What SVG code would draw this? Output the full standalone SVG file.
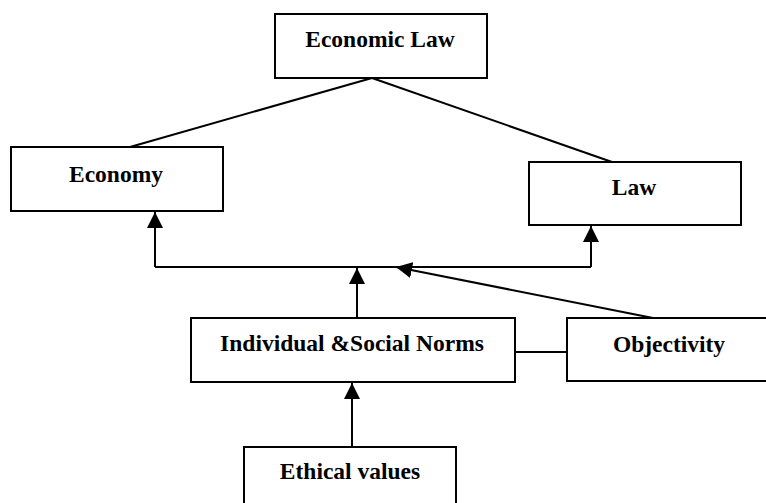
<svg xmlns="http://www.w3.org/2000/svg" width="766" height="503" viewBox="0 0 766 503">
  <style>
    .box { fill: #ffffff; stroke: #000000; stroke-width: 2; }
    .lbl { font-family: "Liberation Serif", "Times New Roman", serif; font-weight: bold; font-size: 23.5px; fill: #000000; text-anchor: middle; }
    .edge { fill: none; stroke: #000000; stroke-width: 2; }
  </style>
  <defs>
    <marker id="arrow" viewBox="0 0 16 16" refX="16" refY="8" markerWidth="16" markerHeight="16" markerUnits="userSpaceOnUse" orient="auto">
      <path d="M0,0 L16,8 L0,16 z" fill="#000000"/>
    </marker>
  </defs>
  <rect width="766" height="503" fill="#ffffff"/>

  <g id="connectors">
    <line class="edge" x1="372" y1="78" x2="130" y2="147"/>
    <line class="edge" x1="372" y1="78" x2="612" y2="162"/>
    <polyline class="edge" points="155,267 591,267"/>
    <line class="edge" x1="155" y1="267" x2="155" y2="212" marker-end="url(#arrow)"/>
    <line class="edge" x1="591" y1="267" x2="591" y2="226" marker-end="url(#arrow)"/>
    <line class="edge" x1="357" y1="318" x2="357" y2="268" marker-end="url(#arrow)"/>
    <line class="edge" x1="653" y1="318" x2="396" y2="267" marker-end="url(#arrow)"/>
    <line class="edge" x1="515" y1="352" x2="567" y2="352"/>
    <line class="edge" x1="352" y1="447" x2="352" y2="383" marker-end="url(#arrow)"/>
  </g>

  <g id="economic-law">
    <rect class="box" x="275" y="14" width="212" height="64"/>
    <text class="lbl" x="380" y="47">Economic Law</text>
  </g>

  <g id="economy">
    <rect class="box" x="11" y="147" width="212" height="64"/>
    <text class="lbl" x="116" y="182">Economy</text>
  </g>

  <g id="law">
    <rect class="box" x="529" y="162" width="212" height="63"/>
    <text class="lbl" x="634" y="195">Law</text>
  </g>

  <g id="norms">
    <rect class="box" x="191" y="318" width="324" height="64"/>
    <text class="lbl" x="352" y="351">Individual &amp;Social Norms</text>
  </g>

  <g id="objectivity">
    <rect class="box" x="567" y="318" width="210" height="63"/>
    <text class="lbl" x="669" y="352">Objectivity</text>
  </g>

  <g id="ethical-values">
    <rect class="box" x="244" y="447" width="212" height="70"/>
    <text class="lbl" x="350" y="479">Ethical values</text>
  </g>
</svg>
